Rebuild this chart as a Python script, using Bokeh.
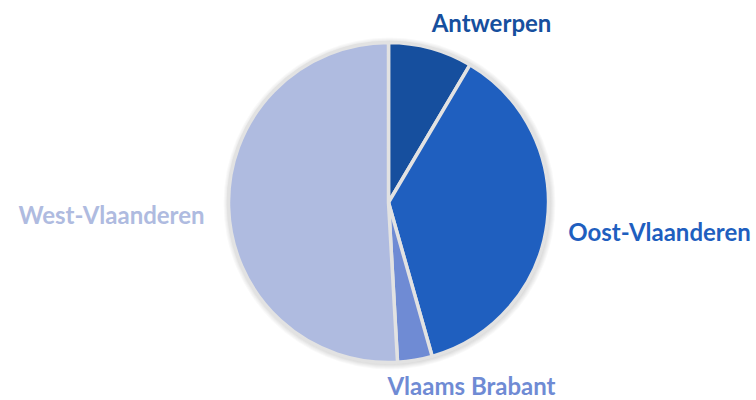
import math
from bokeh.plotting import figure
from bokeh.models import Range1d, ColumnDataSource
from bokeh.core.properties import value
from bokeh.embed import file_html
from bokeh.resources import INLINE

# data
regions = ["Antwerpen", "Oost-Vlaanderen", "Vlaams Brabant", "West-Vlaanderen"]
shares = [8.5, 37.1, 3.5, 50.9]
colors = ["#164f9e", "#1f5fbf", "#6f8bd4", "#afbbe0"]

# layout (data units == pixels, y measured from bottom)
W, H = 756, 400
CX, CY, R = 388, 198, 160
label_pos = [(491, 378), (659, 169), (471, 15), (111, 186)]

total = sum(shares)
starts, ends = [], []
cum = 0.0
for s in shares:
    a0 = math.pi / 2 - cum / total * 2 * math.pi
    cum += s
    a1 = math.pi / 2 - cum / total * 2 * math.pi
    starts.append(a0)
    ends.append(a1)

src = ColumnDataSource(dict(region=regions, share=shares, color=colors,
                            start=starts, end=ends,
                            x=[CX] * 4, y=[CY] * 4))

p = figure(width=W, height=H, output_backend="svg", toolbar_location=None,
           x_range=Range1d(0, W), y_range=Range1d(0, H),
           min_border=0, outline_line_color=None)
p.axis.visible = False
p.grid.visible = False

# soft shadow
for i in range(1, 7):
    p.circle(x=CX + 1, y=CY - 1, radius=R + i, fill_color="#000000",
             fill_alpha=0.025, line_color=None)

p.wedge(x="x", y="y", radius=R, start_angle="end", end_angle="start",
        fill_color="color", line_color="#e2e2e2", line_width=3.5, source=src)

lsrc = ColumnDataSource(dict(x=[lp[0] for lp in label_pos],
                             y=[lp[1] for lp in label_pos],
                             text=regions, color=colors))
p.text(x="x", y="y", text="text", text_color="color", source=lsrc,
       text_align="center", text_baseline="middle",
       text_font=value("Lato"), text_font_style="bold", text_font_size="24px")

open("out.html", "w").write(file_html(p, INLINE))
